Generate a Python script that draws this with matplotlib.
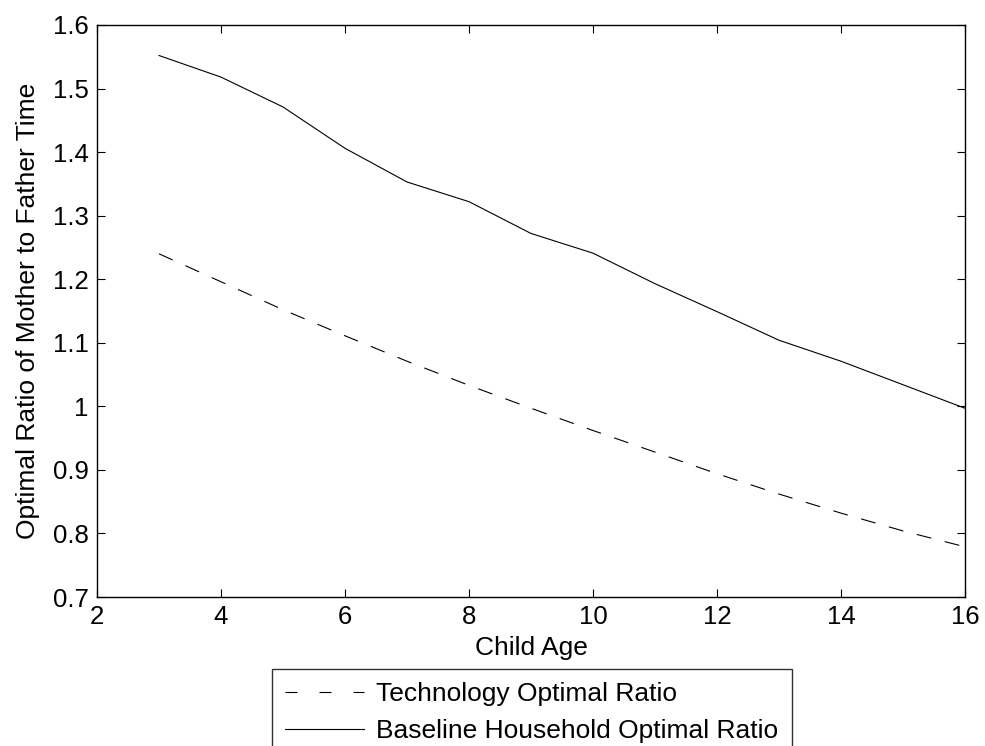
import matplotlib
matplotlib.use("Agg")
import matplotlib.pyplot as plt
from matplotlib.ticker import FuncFormatter

ages = [3, 4, 5, 6, 7, 8, 9, 10, 11, 12, 13, 14, 15, 16]
technology_ratio = [1.240, 1.196, 1.152, 1.111, 1.071, 1.033, 0.997, 0.962, 0.928, 0.894, 0.862, 0.832, 0.804, 0.779]
baseline_ratio = [1.552, 1.518, 1.471, 1.406, 1.353, 1.322, 1.272, 1.241, 1.193, 1.149, 1.104, 1.071, 1.034, 0.997]
x_ticks = [2, 4, 6, 8, 10, 12, 14, 16]
y_ticks = [0.7, 0.8, 0.9, 1.0, 1.1, 1.2, 1.3, 1.4, 1.5, 1.6]

plt.rcParams['font.family'] = ['Liberation Sans', 'DejaVu Sans']

fig = plt.figure(figsize=(9.85, 7.46), dpi=100)
ax = fig.add_axes([0.0985, 0.1997, 0.8812, 0.7668])

ax.plot(ages, technology_ratio, color='black', linewidth=0.8,
        linestyle=(0, (13.5, 12.5)), label='Technology Optimal Ratio')
ax.plot(ages, baseline_ratio, color='black', linewidth=0.8,
        label='Baseline Household Optimal Ratio')

ax.set_xlim(2, 16)
ax.set_ylim(0.7, 1.6)
ax.set_xticks(x_ticks)
ax.set_yticks(y_ticks)
ax.yaxis.set_major_formatter(FuncFormatter(lambda v, p: '%g' % round(v, 2)))
ax.tick_params(direction='in', top=True, right=True, length=6, width=0.8,
               labelsize=18.5, pad=6)
for s in ax.spines.values():
    s.set_linewidth(1.0)

ax.set_xlabel('Child Age', fontsize=19, labelpad=5)
ax.set_ylabel('Optimal Ratio of Mother to Father Time', fontsize=19, labelpad=9)

leg = fig.legend(loc='upper left', bbox_to_anchor=(272/985, 1 - 669/746),
                 bbox_transform=fig.transFigure, fontsize=19, frameon=True,
                 fancybox=False, edgecolor='black', handlelength=3.0,
                 handletextpad=0.45, borderpad=0.5, labelspacing=0.5,
                 borderaxespad=0)
leg.get_frame().set_linewidth(1.0)
leg.legend_handles[0].set_linestyle((0, (10.8, 19.8)))

fig.savefig('out.png', dpi=100)
